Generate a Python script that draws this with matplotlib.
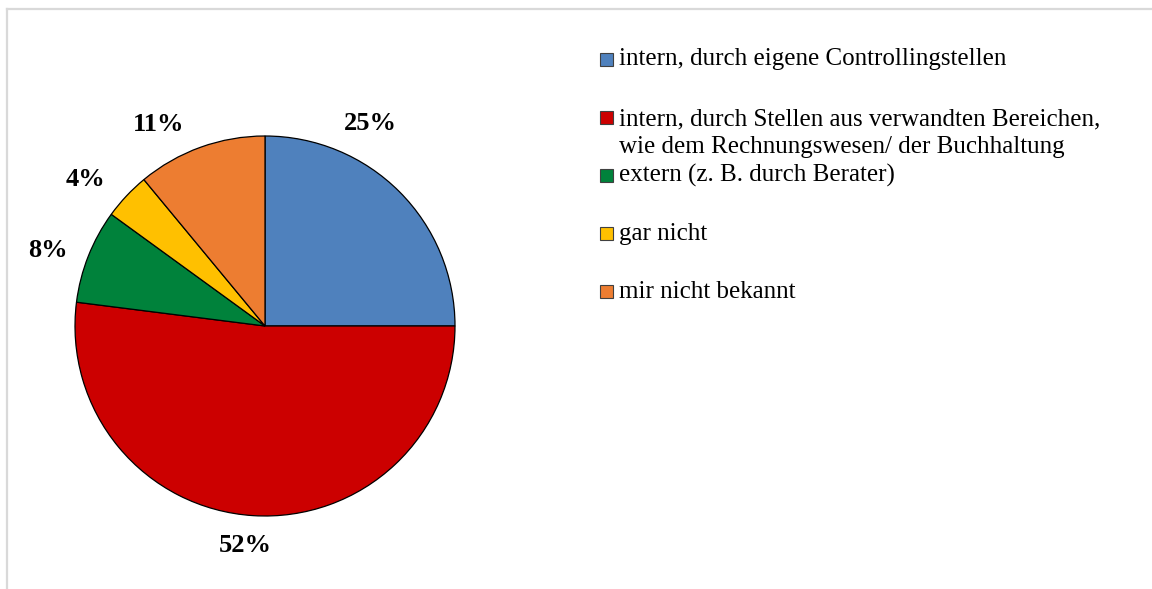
import matplotlib
matplotlib.use("Agg")
import matplotlib.pyplot as plt
import numpy as np
from matplotlib.patches import Rectangle
from matplotlib.lines import Line2D

# ---- data ----
categories = [
    "intern, durch eigene Controllingstellen",
    "intern, durch Stellen aus verwandten Bereichen,\nwie dem Rechnungswesen/ der Buchhaltung",
    "extern (z. B. durch Berater)",
    "gar nicht",
    "mir nicht bekannt",
]
values = [25, 52, 8, 4, 11]
pct_labels = ["25%", "52%", "8%", "4%", "11%"]
colors = ["#4F81BD", "#CC0000", "#00823B", "#FFC000", "#ED7D31"]

# ---- layout ----
W, H = 1152, 589
fig = plt.figure(figsize=(W / 100, H / 100), dpi=100)
fig.patch.set_facecolor("white")

def fx(px):
    return px / W

def fy(py):
    return 1 - py / H

cx, cy, R = 265, 326, 190
ax = fig.add_axes([fx(cx - R), fy(cy + R), 2 * R / W, 2 * R / H])
wedges, _ = ax.pie(values, colors=colors, startangle=90, counterclock=False,
                   radius=1, wedgeprops=dict(edgecolor="black", linewidth=0.9))
ax.set_xlim(-1, 1)
ax.set_ylim(-1, 1)
ax.set_aspect("auto")
ax.axis("off")

# percentage labels placed around wedge mid-angles
angle_offsets = [17.5, -1.4, 2.3, 4.0, 8.0]
label_r = [1.20, 1.16, 1.21, 1.22, 1.20]
for w, lab, off, r in zip(wedges, pct_labels, angle_offsets, label_r):
    mid = np.deg2rad((w.theta1 + w.theta2) / 2 + off)
    ax.text(r * np.cos(mid), r * np.sin(mid), lab, ha="center", va="center",
            fontsize=19, fontweight="bold", family="Liberation Serif",
            color="black", clip_on=False)

# legend (manual)
leg_x_sq, leg_sq = 600, 13
leg_y0, leg_dy = 59, 58.2
line_px = 30
for i, (lab, col) in enumerate(zip(categories, colors)):
    yc = leg_y0 + i * leg_dy
    fig.patches.append(Rectangle((fx(leg_x_sq), fy(yc + leg_sq / 2)),
                                 leg_sq / W, leg_sq / H, facecolor=col,
                                 edgecolor="#404040", linewidth=0.8,
                                 transform=fig.transFigure, figure=fig))
    nlines = lab.count("\n") + 1
    fig.text(fx(619), fy(yc + 6 + (nlines - 1) * line_px), lab, ha="left",
             va="baseline", fontsize=18, family="Liberation Serif",
             color="black", linespacing=1.36)

# frame (only top and left edges visible)
fig.lines.append(Line2D([fx(7), fx(W + 5)], [fy(9), fy(9)], color="#D9D9D9",
                        linewidth=1.6, transform=fig.transFigure, figure=fig))
fig.lines.append(Line2D([fx(7), fx(7)], [fy(9), fy(H + 5)], color="#D9D9D9",
                        linewidth=1.6, transform=fig.transFigure, figure=fig))

fig.savefig("out.png", dpi=100, facecolor="white")
